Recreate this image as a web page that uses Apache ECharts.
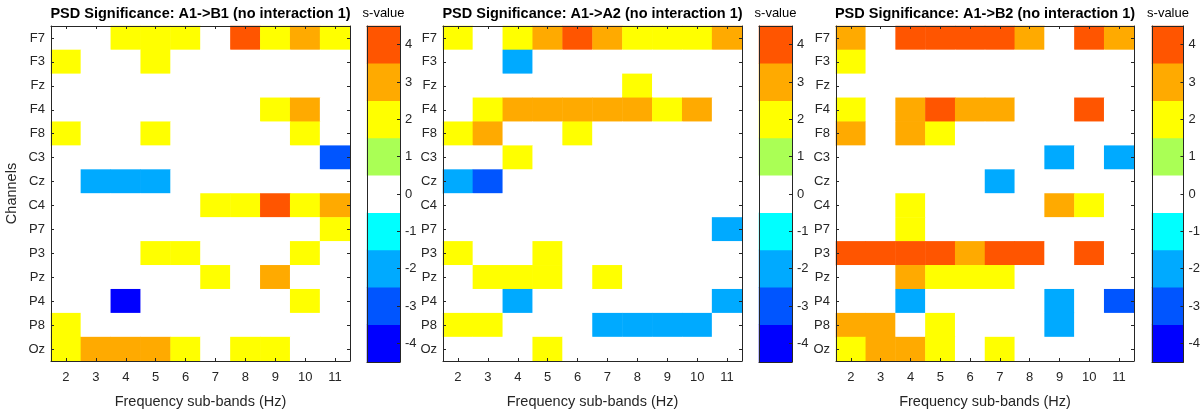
<!DOCTYPE html>
<html>
<head>
<meta charset="utf-8">
<script src="https://cdn.jsdelivr.net/npm/echarts@6/dist/echarts.min.js"></script>
<style>
  html, body { margin: 0; padding: 0; background: #fff; }
  #chart { width: 1203px; height: 414px; }
</style>
</head>
<body>
<div id="chart"></div>
<script>
// EEG channels (rows, top to bottom) and frequency sub-bands (columns)
const channels = ['F7','F3','Fz','F4','F8','C3','Cz','C4','P7','P3','Pz','P4','P8','Oz'];
const bands = ['2','3','4','5','6','7','8','9','10','11'];

// Discrete s-value levels shown on the colour bars
const levels = [-4, -3, -2, -1, 0, 1, 2, 3, 4];
const levelColors = ['#0000ff','#0055ff','#00aaff','#00ffff','#ffffff','#aaff55','#ffff00','#ffaa00','#ff5500'];

// s-values per channel (row) and sub-band (column)
const sA1B1 = [
  [0,0,2,2,2,0,4,2,3,2],
  [2,0,0,2,0,0,0,0,0,0],
  [0,0,0,0,0,0,0,0,0,0],
  [0,0,0,0,0,0,0,2,3,0],
  [2,0,0,2,0,0,0,0,2,0],
  [0,0,0,0,0,0,0,0,0,-3],
  [0,-2,-2,-2,0,0,0,0,0,0],
  [0,0,0,0,0,2,2,4,2,3],
  [0,0,0,0,0,0,0,0,0,2],
  [0,0,0,2,2,0,0,0,2,0],
  [0,0,0,0,0,2,0,3,0,0],
  [0,0,-4,0,0,0,0,0,2,0],
  [2,0,0,0,0,0,0,0,0,0],
  [2,3,3,3,2,0,2,2,0,0]
];
const sA1A2 = [
  [2,0,2,3,4,3,2,2,2,3],
  [0,0,-2,0,0,0,0,0,0,0],
  [0,0,0,0,0,0,2,0,0,0],
  [0,2,3,3,3,3,3,2,3,0],
  [2,3,0,0,2,0,0,0,0,0],
  [0,0,2,0,0,0,0,0,0,0],
  [-2,-3,0,0,0,0,0,0,0,0],
  [0,0,0,0,0,0,0,0,0,0],
  [0,0,0,0,0,0,0,0,0,-2],
  [2,0,0,2,0,0,0,0,0,0],
  [0,2,2,2,0,2,0,0,0,0],
  [0,0,-2,0,0,0,0,0,0,-2],
  [2,2,0,0,0,-2,-2,-2,-2,0],
  [0,0,0,2,0,0,0,0,0,0]
];
const sA1B2 = [
  [3,0,4,4,4,4,3,0,4,3],
  [2,0,0,0,0,0,0,0,0,0],
  [0,0,0,0,0,0,0,0,0,0],
  [2,0,3,4,3,3,0,0,4,0],
  [3,0,3,2,0,0,0,0,0,0],
  [0,0,0,0,0,0,0,-2,0,-2],
  [0,0,0,0,0,-2,0,0,0,0],
  [0,0,2,0,0,0,0,3,2,0],
  [0,0,2,0,0,0,0,0,0,0],
  [4,4,4,4,3,4,4,0,4,0],
  [0,0,3,2,2,2,0,0,0,0],
  [0,0,-2,0,0,0,0,-2,0,-3],
  [3,3,0,2,0,0,0,-2,0,0],
  [2,3,3,2,0,2,0,0,0,0]
];

const titles = [
  'PSD Significance: A1->B1 (no interaction 1)',
  'PSD Significance: A1->A2 (no interaction 1)',
  'PSD Significance: A1->B2 (no interaction 1)'
];
const matrices = [sA1B1, sA1A2, sA1B2];

// Layout of each panel: heat map box and its colour bar box (pixels)
const panels = [
  { left: 51,  width: 299, barLeft: 367,  barWidth: 33 },
  { left: 443, width: 299, barLeft: 759,  barWidth: 33 },
  { left: 836, width: 298, barLeft: 1152, barWidth: 32 }
];
const plotTop = 26, plotHeight = 336;

const ink = '#262626';
const fontFamily = '"Liberation Sans", Arial, Helvetica, sans-serif';

const grids = [], xAxes = [], yAxes = [], series = [], graphics = [];

const lineStyle = { color: ink, width: 1 };
const tickStyle = (show) => ({ show: show, inside: true, length: 3, alignWithLabel: true, interval: 0, lineStyle: { color: ink, width: 1 } });

panels.forEach((p, k) => {
  const gMain = grids.length;
  grids.push({ left: p.left, top: plotTop, width: p.width, height: plotHeight, containLabel: false });
  const gBar = grids.length;
  grids.push({ left: p.barLeft, top: plotTop, width: p.barWidth, height: plotHeight, containLabel: false });

  // heat map axes: box with inward ticks on all four sides
  const xMain = xAxes.length;
  xAxes.push({
    type: 'category', gridIndex: gMain, data: bands, position: 'bottom', z: 10,
    axisLine: { show: true, lineStyle: lineStyle }, axisTick: tickStyle(true),
    axisLabel: { color: ink, fontSize: 13, fontFamily: fontFamily, margin: 10, interval: 0 },
    splitLine: { show: false },
    name: 'Frequency sub-bands (Hz)', nameLocation: 'middle', nameGap: 33,
    nameTextStyle: { color: ink, fontSize: 14.5, fontFamily: fontFamily }
  });
  xAxes.push({
    type: 'category', gridIndex: gMain, data: bands, position: 'top', z: 10,
    axisLine: { show: true, lineStyle: lineStyle }, axisTick: tickStyle(true),
    axisLabel: { show: false }, splitLine: { show: false }
  });
  const yMain = yAxes.length;
  const yLeft = {
    type: 'category', gridIndex: gMain, data: channels, inverse: true, position: 'left', z: 10,
    axisLine: { show: true, lineStyle: lineStyle }, axisTick: tickStyle(true),
    axisLabel: { color: ink, fontSize: 13, fontFamily: fontFamily, margin: 6, interval: 0 },
    splitLine: { show: false }
  };
  if (k === 0) {
    yLeft.name = 'Channels';
    yLeft.nameLocation = 'middle';
    yLeft.nameGap = 32;
    yLeft.nameTextStyle = { color: ink, fontSize: 14.5, fontFamily: fontFamily };
  }
  yAxes.push(yLeft);
  yAxes.push({
    type: 'category', gridIndex: gMain, data: channels, inverse: true, position: 'right', z: 10,
    axisLine: { show: true, lineStyle: lineStyle }, axisTick: tickStyle(true),
    axisLabel: { show: false }, splitLine: { show: false }
  });

  // colour bar axes
  const xBar = xAxes.length;
  xAxes.push({
    type: 'category', gridIndex: gBar, data: ['s'], position: 'bottom', z: 10,
    axisLine: { show: true, lineStyle: lineStyle }, axisTick: { show: false },
    axisLabel: { show: false }, splitLine: { show: false }
  });
  xAxes.push({
    type: 'category', gridIndex: gBar, data: ['s'], position: 'top', z: 10,
    axisLine: { show: true, lineStyle: lineStyle }, axisTick: { show: false },
    axisLabel: { show: false }, splitLine: { show: false }
  });
  yAxes.push({
    type: 'category', gridIndex: gBar, data: levels.map(String), position: 'left', z: 10,
    axisLine: { show: true, lineStyle: lineStyle }, axisTick: { show: false },
    axisLabel: { show: false }, splitLine: { show: false }
  });
  const yBar = yAxes.length;
  yAxes.push({
    type: 'category', gridIndex: gBar, data: levels.map(String), position: 'right', z: 10,
    axisLine: { show: true, lineStyle: lineStyle }, axisTick: tickStyle(true),
    axisLabel: { color: ink, fontSize: 13, fontFamily: fontFamily, margin: 5, interval: 0 },
    splitLine: { show: false }
  });

  // heat map cells
  const cells = [];
  matrices[k].forEach((row, r) => row.forEach((v, c) => cells.push([c, r, v])));
  series.push({
    type: 'heatmap', xAxisIndex: xMain, yAxisIndex: yMain, data: cells,
    itemStyle: { borderWidth: 0 }, emphasis: { disabled: true }, silent: true
  });
  // colour bar blocks
  series.push({
    type: 'heatmap', xAxisIndex: xBar, yAxisIndex: yBar,
    data: levels.map((v, i) => [0, i, v]),
    itemStyle: { borderWidth: 0 }, emphasis: { disabled: true }, silent: true
  });

  graphics.push({
    type: 'text', x: p.left + p.width / 2, y: 14,
    style: { text: titles[k], fill: '#000', font: 'bold 14.5px ' + fontFamily, textAlign: 'center', textVerticalAlign: 'middle' }
  });
  graphics.push({
    type: 'text', x: p.barLeft + p.barWidth / 2, y: 13,
    style: { text: 's-value', fill: '#000', font: '13px ' + fontFamily, textAlign: 'center', textVerticalAlign: 'middle' }
  });
});

const chart = echarts.init(document.getElementById('chart'), null, { renderer: 'canvas' });
chart.setOption({
  animation: false,
  backgroundColor: '#ffffff',
  grid: grids,
  xAxis: xAxes,
  yAxis: yAxes,
  visualMap: {
    type: 'piecewise', show: false, dimension: 2,
    seriesIndex: series.map((s, i) => i),
    pieces: levels.map((v, i) => ({ value: v, color: levelColors[i] }))
  },
  series: series,
  graphic: graphics
});
</script>
</body>
</html>
